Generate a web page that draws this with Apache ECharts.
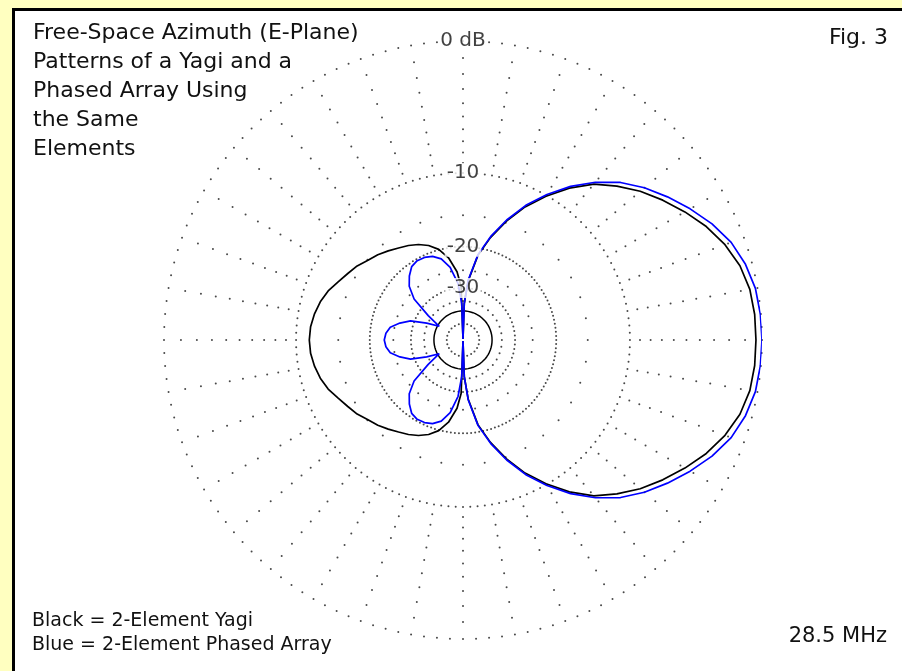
<!DOCTYPE html>
<html>
<head>
<meta charset="utf-8">
<script src="https://cdn.jsdelivr.net/npm/echarts/dist/echarts.min.js"></script>
<style>
html,body{margin:0;padding:0;background:#FFFFC0;}
#chart{width:902px;height:671px;}
</style>
</head>
<body>
<div id="chart"></div>
<script>
// ---- data (angles in degrees, 0 = right, counter-clockwise) ----
const angles = [0,5,10,15,20,25,30,35,40,45,50,55,60,65,70,75,80,85,88,90,92,95,100,105,110,115,120,125,130,135,140,145,150,155,160,165,170,175,180,185,190,195,200,205,210,215,220,225,230,235,240,245,250,255,260,265,268,270,272,275,280,285,290,295,300,305,310,315,320,325,330,335,340,345,350,355,360];
// 2-element Yagi (black), dB
const yagiDb = [-0.35,-0.36,-0.45,-0.72,-1.2,-1.85,-2.65,-3.5,-4.4,-5.45,-6.6,-8.2,-10.1,-12.2,-14.8,-17.8,-21.4,-27.8,-36,-99,-29.5,-25.3,-21.9,-19.9,-18.7,-17.9,-17.3,-16.8,-16.2,-15.6,-15.1,-14.4,-13.9,-13.3,-12.6,-12.1,-11.75,-11.5,-11.42,-11.5,-11.75,-12.1,-12.6,-13.3,-13.9,-14.4,-15.1,-15.6,-16.2,-16.8,-17.3,-17.9,-18.7,-19.9,-21.9,-25.3,-29.5,-99,-36,-27.8,-21.4,-17.8,-14.8,-12.2,-10.1,-8.2,-6.6,-5.45,-4.4,-3.5,-2.65,-1.85,-1.2,-0.72,-0.45,-0.36,-0.35];
// 2-element phased array (blue), dB
const phasedDb = [0,-0.03,-0.12,-0.38,-0.8,-1.45,-2.25,-3.1,-4.0,-5.05,-6.4,-8.0,-9.9,-12.0,-14.6,-17.6,-21.2,-27.5,-36,-99,-36,-28.6,-24.0,-21.8,-20.8,-20.4,-20.3,-20.7,-21.9,-23.5,-26.5,-33.5,-41,-34.5,-28.8,-26.1,-24.0,-23.2,-22.9,-23.2,-24.0,-26.1,-28.8,-34.5,-41,-33.5,-26.5,-23.5,-21.9,-20.7,-20.3,-20.4,-20.8,-21.8,-24.0,-28.6,-36,-99,-36,-27.5,-21.2,-17.6,-14.6,-12.0,-9.9,-8.0,-6.4,-5.05,-4.0,-3.1,-2.25,-1.45,-0.8,-0.38,-0.12,-0.03,0];

// grid description
const ringDb = [0, -10, -20, -30, -50];
const ringDotStepDeg = [2.5, 2.5, 2.5, 5, 15];
const solidRingDb = -40;
const radialStepDeg = 10;
const radialDotDb = [-1,-2,-3,-4,-5,-6,-7,-8,-9,-15,-25,-35];
const ringLabelDb = [0, -10, -20, -30];
const ringLabelText = ['0 dB', '-10', '-20', '-30'];

// texts
const titleLines = ['Free-Space Azimuth (E-Plane)', 'Patterns of a Yagi and a', 'Phased Array Using', 'the Same', 'Elements'];
const legendLines = ['Black = 2-Element Yagi', 'Blue = 2-Element Phased Array'];
const figText = 'Fig. 3';
const freqText = '28.5 MHz';

// ARRL log-periodic radius scale: 0.89 per 2 dB
function toR(db) { return Math.pow(0.89, -db / 2); }

const gridDots = [];
ringDb.forEach((db, i) => {
  for (let a = 0; a < 360; a += ringDotStepDeg[i]) gridDots.push([toR(db), a]);
});
for (let a = 0; a < 360; a += radialStepDeg) {
  radialDotDb.forEach(db => gridDots.push([toR(db), a]));
}
const solidRing = [];
for (let a = 0; a <= 360; a += 5) solidRing.push([toR(solidRingDb), a]);

const FONT = '"DejaVu Sans", "Liberation Sans", Arial, sans-serif';
const graphics = [
  { type: 'rect', z: -10, shape: { x: 13.5, y: 9.5, width: 900, height: 680 },
    style: { fill: '#ffffff', stroke: '#000000', lineWidth: 3 } }
];
titleLines.forEach((t, i) => {
  graphics.push({ type: 'text', z: 50, x: 33, y: 33 + i * 29,
    style: { text: t, font: '22px ' + FONT, fill: '#111', align: 'left', verticalAlign: 'middle', textAlign: 'left', textVerticalAlign: 'middle' } });
});
legendLines.forEach((t, i) => {
  graphics.push({ type: 'text', z: 50, x: 32, y: 621 + i * 24,
    style: { text: t, font: '19px ' + FONT, fill: '#111', align: 'left', verticalAlign: 'middle', textAlign: 'left', textVerticalAlign: 'middle' } });
});
graphics.push({ type: 'text', z: 50, x: 888, y: 38,
  style: { text: figText, font: '22px ' + FONT, fill: '#111', align: 'right', verticalAlign: 'middle', textAlign: 'right', textVerticalAlign: 'middle' } });
graphics.push({ type: 'text', z: 50, x: 887, y: 637,
  style: { text: freqText, font: '21px ' + FONT, fill: '#111', align: 'right', verticalAlign: 'middle', textAlign: 'right', textVerticalAlign: 'middle' } });

const chart = echarts.init(document.getElementById('chart'), null, { renderer: 'canvas' });
chart.setOption({
  animation: false,
  backgroundColor: '#FFFFC0',
  polar: { center: [463, 340], radius: 299 },
  angleAxis: { type: 'value', min: 0, max: 360, startAngle: 0, clockwise: false, show: false },
  radiusAxis: { type: 'value', min: 0, max: 1, show: false },
  graphic: { elements: graphics },
  series: [
    { type: 'scatter', coordinateSystem: 'polar', data: gridDots, symbol: 'circle', symbolSize: 2,
      itemStyle: { color: '#1a1a1a' }, silent: true, z: 1 },
    { type: 'line', coordinateSystem: 'polar', data: solidRing, symbol: 'none', silent: true, z: 2,
      lineStyle: { color: '#000', width: 1.5 } },
    { type: 'line', coordinateSystem: 'polar', name: 'Yagi', symbol: 'none', z: 3,
      data: angles.map((a, i) => [toR(yagiDb[i]), a]),
      lineStyle: { color: '#000', width: 1.7 } },
    { type: 'line', coordinateSystem: 'polar', name: 'Phased', symbol: 'none', z: 4,
      data: angles.map((a, i) => [toR(phasedDb[i]), a]),
      lineStyle: { color: '#0000ff', width: 1.7 } },
    { type: 'scatter', coordinateSystem: 'polar', symbolSize: 0, z: 10, silent: true,
      data: ringLabelDb.map(db => [toR(db), 90]),
      label: { show: true, position: 'inside', color: '#111', fontSize: 20, fontFamily: FONT,
        backgroundColor: '#fff', padding: [0, 2],
        formatter: p => ringLabelText[p.dataIndex] } }
  ]
});
</script>
</body>
</html>
